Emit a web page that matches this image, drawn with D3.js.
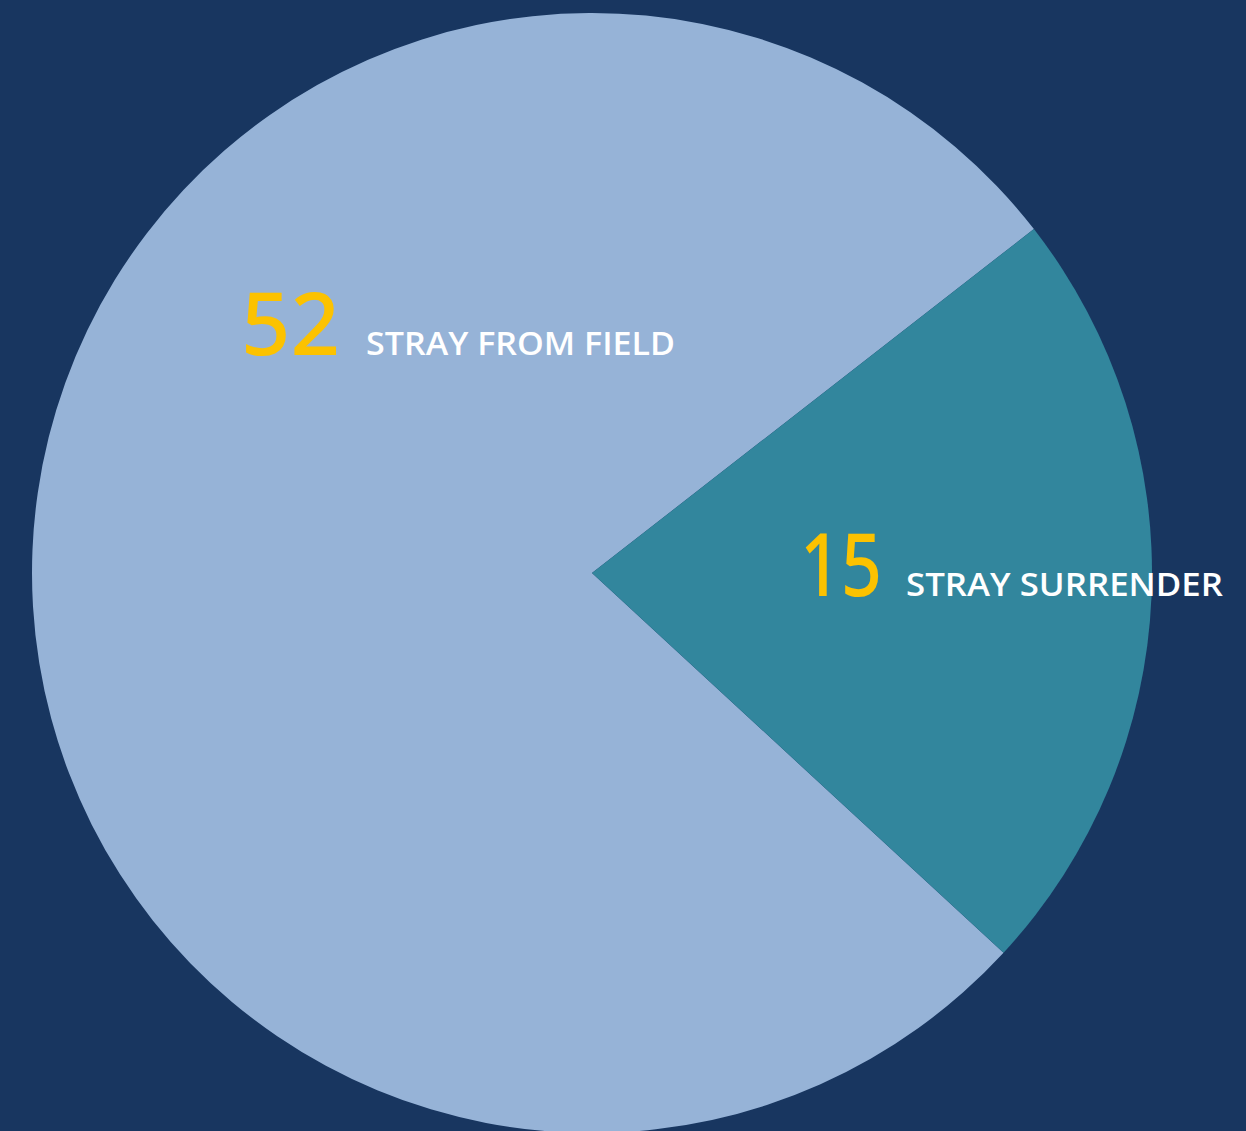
<!DOCTYPE html>
<html>
<head>
<meta charset="utf-8">
<script src="https://cdn.jsdelivr.net/npm/d3@7"></script>
<style>
  html, body { margin: 0; padding: 0; background: #183660; overflow: hidden; }
</style>
</head>
<body>
<div id="container"></div>
<script>
// Data
let categories = ["STRAY FROM FIELD", "STRAY SURRENDER"];
let values = [52, 15];
let colors = ["#96b3d7", "#32869d"];

// Set up SVG
let width = 1246;
let height = 1131;
let cx = 592, cy = 573, radius = 560;

let svg = d3.select("#container")
  .append("svg")
  .attr("width", width)
  .attr("height", height)
  .style("display", "block")
  .style("background", "#183660");

let g = svg.append("g")
  .attr("transform", `translate(${cx}, ${cy})`);

// Pie layout, light slice starts at lower right
let startDeg = 132.7;
let pie = d3.pie()
  .sort(null)
  .startAngle(startDeg * Math.PI / 180)
  .endAngle((startDeg + 360) * Math.PI / 180);

let arcs = pie(values);
let arc = d3.arc().innerRadius(0).outerRadius(radius);

g.selectAll("path")
  .data(arcs)
  .enter()
  .append("path")
  .attr("d", arc)
  .style("fill", (d, i) => colors[i]);

// Labels: number + category, placed by slice
let labelPos = [
  { x: 241 - cx, y: 355 - cy, numW: 99, textW: 309, gap: 26 },
  { x: 800 - cx, y: 596 - cy, numW: 82, textW: 317, gap: 24 }
];

let label = g.selectAll("g.label")
  .data(arcs)
  .enter()
  .append("g")
  .attr("class", "label")
  .attr("transform", (d, i) => `translate(${labelPos[i].x}, ${labelPos[i].y})`);

label.append("text")
  .attr("x", 0)
  .attr("y", 0)
  .attr("textLength", (d, i) => labelPos[i].numW)
  .attr("lengthAdjust", "spacingAndGlyphs")
  .style("font-family", "'Noto Sans', 'Open Sans', sans-serif")
  .style("font-weight", 500)
  .style("font-size", "88px")
  .style("fill", "#fcc200")
  .text((d) => d.data);

label.append("text")
  .attr("x", (d, i) => labelPos[i].numW + labelPos[i].gap)
  .attr("y", 0)
  .attr("textLength", (d, i) => labelPos[i].textW)
  .attr("lengthAdjust", "spacingAndGlyphs")
  .style("font-family", "'Open Sans', Lato, sans-serif")
  .style("font-weight", 600)
  .style("font-size", "33px")
  .style("fill", "#ffffff")
  .text((d, i) => categories[i]);
</script>
</body>
</html>
